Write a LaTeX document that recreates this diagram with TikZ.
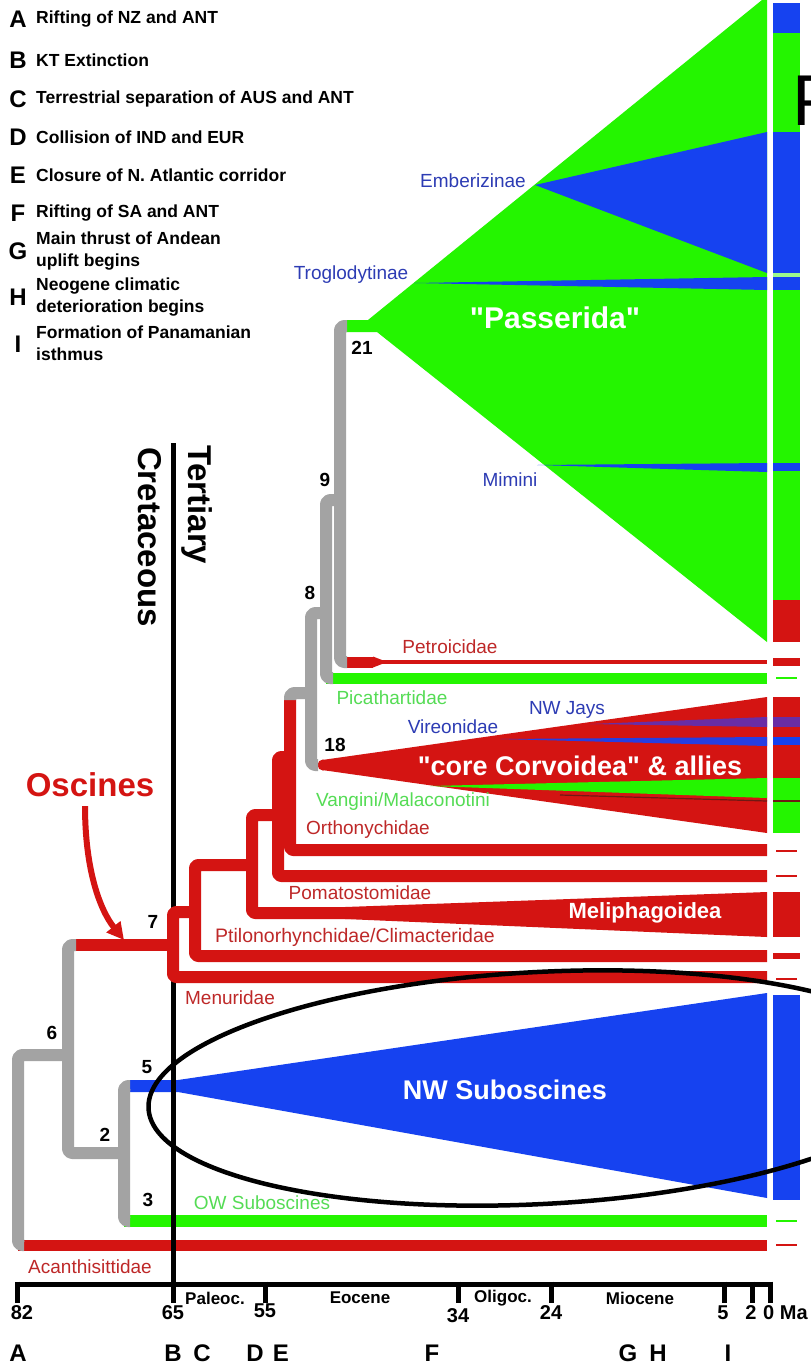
\documentclass[tikz,border=0pt]{standalone}
\usepackage{fontspec}
\setmainfont{Liberation Sans}[Ligatures=TeXOff]
\usetikzlibrary{arrows.meta}
\definecolor{grn}{RGB}{36,245,0}
\definecolor{blu}{RGB}{22,66,240}
\definecolor{rd}{RGB}{212,20,18}
\definecolor{gry}{RGB}{163,163,163}
\definecolor{tred}{RGB}{190,40,40}
\definecolor{tblu}{RGB}{45,60,180}
\definecolor{tgrn}{RGB}{85,220,85}
\definecolor{pur}{RGB}{105,45,165}
\definecolor{dkr}{RGB}{110,25,20}
\begin{document}
\begin{tikzpicture}[x=1pt,y=-1pt,
  gbr/.style={draw=gry,line width=12pt,line join=round,rounded corners=4pt},
  rbr/.style={draw=rd,line width=12pt,line join=round,rounded corners=3pt},
  tx/.style={font=\fontsize{19}{19}\selectfont,inner sep=0pt},
  nlab/.style={font=\bfseries\fontsize{19}{19}\selectfont,inner sep=0pt},
  big/.style={font=\bfseries\fontsize{27}{27}\selectfont,text=white,inner sep=0pt},
  leg/.style={font=\bfseries\fontsize{24}{24}\selectfont,inner sep=0pt},
  legtx/.style={font=\bfseries\fontsize{17.5}{21.5}\selectfont,inner sep=0pt,anchor=west,align=left},
  axn/.style={font=\bfseries\fontsize{20}{20}\selectfont,inner sep=0pt},
  epo/.style={font=\bfseries\fontsize{17}{17}\selectfont,inner sep=0pt},
  colb/.style={line width=2pt},
]
\useasboundingbox (0,0) rectangle (811,1366);
\fill[white] (0,0) rectangle (811,1366);

% ---------- tree node coordinates ----------
\coordinate (n21t) at (340,326); \coordinate (n21b) at (340,662);
\coordinate (n9t) at (326,500);  \coordinate (n9b) at (326,678);
\coordinate (n8t) at (311,613);  \coordinate (n8b) at (311,765);
\coordinate (nAt) at (290,693);  \coordinate (nAb) at (290,850);
\coordinate (nBt) at (278,757);  \coordinate (nBb) at (278,876);
\coordinate (nCt) at (252,815);  \coordinate (nCb) at (252,913);
\coordinate (nDt) at (195,865);  \coordinate (nDb) at (195,956);
\coordinate (n7t) at (173,912);  \coordinate (n7b) at (173,977);
\coordinate (n6t) at (68,945);   \coordinate (n6b) at (68,1153);
\coordinate (n2t) at (124,1086); \coordinate (n2b) at (124,1221);
\coordinate (nRt) at (18,1055);  \coordinate (nRb) at (18,1245);

% ---------- clades (wedges) ----------
\fill[grn] (345,320) -- (368,320) -- (762,0) -- (767,0) -- (767,642) -- (377,332) -- (345,332) -- cycle;
\fill[blu] (535,185) -- (767,132) -- (767,273) -- cycle;
\fill[blu] (414,283) -- (767,277) -- (767,290) -- cycle;
\fill[blu] (537,465) -- (767,463) -- (767,472) -- cycle;

\fill[rd] (322,760) -- (767,697) -- (767,833) -- (322,770) -- cycle;
\fill[pur] (590,724) -- (767,717) -- (767,727) -- cycle;
\fill[blu!80!pur] (500,739) -- (767,737) -- (767,746) -- cycle;
\fill[grn] (430,786) -- (767,778) -- (767,798) -- cycle;
\draw[dkr,line width=1.2pt] (560,795) -- (767,801);
\fill[rd] (323,765) circle (5.5);

\fill[rd] (345,907) -- (767,892) -- (767,937) -- (345,919) -- cycle;

\fill[blu] (130,1080) -- (178,1080) -- (767,993) -- (767,1198) -- (178,1092) -- (130,1092) -- cycle;

% ---------- single-lineage bars ----------
\fill[rd] (345,656.5) rectangle (373,667.5);
\fill[rd] (373,656.5) -- (382,660) -- (382,664) -- (373,667.5) -- cycle;
\draw[rd,line width=4.5pt] (380,662) -- (767,662);
\draw[grn,line width=11pt] (n9b) -- (767,678);
\draw[grn,line width=12pt] (n2b) -- (767,1221);
\draw[rd,line width=11pt] (nRb) -- (767,1245);

% ---------- Cretaceous/Tertiary boundary ----------
\draw[line width=5pt] (173,443) -- (173,1303);

% ---------- red (oscine) branches ----------
\draw[rd,line width=12pt] (75,945) -- (n7t |- n6t);
\draw[rbr] (n7t -| nDt) -- (n7t) -- (n7b) -- (767,977);
\draw[rbr] (nDt -| nCt) -- (nDt) -- (nDb) -- (767,956);
\draw[rbr] (nCt -| nBt) -- (nCt) -- (nCb) -- (350,913);
\draw[rbr] (nBt -| nAt) -- (nBt) -- (nBb) -- (767,876);
\draw[rbr] ([yshift=-6pt]nAt) -- (nAb) -- (767,850);

% ---------- grey branches ----------
\draw[gbr] (nAt -| n8t) -- (nAt) -- ([yshift=-7pt]nAt);
\draw[gbr] (n8t -| n9t) -- (n8t) -- (n8b) -- (318,765);
\draw[gbr] (n9t -| n21t) -- (n9t) -- (n9b) -- (333,678);
\draw[gbr] (347,326) -- (n21t) -- (n21b) -- (347,662);
\draw[gbr] (76,945) -- (n6t) -- (n6b) -- (n6b -| n2t);
\draw[gbr] (130,1086) -- (n2t) -- (n2b) -- (130,1221);
\draw[gbr] (nRt -| n6t) -- (nRt) -- (nRb) -- (24,1245);

% ---------- right summary column ----------
\fill[blu] (773,3) rectangle (800,33);
\fill[grn] (773,33) rectangle (800,132);
\fill[blu] (773,132) rectangle (800,273);
\fill[grn!45!white] (773,273) rectangle (800,277);
\fill[blu] (773,277) rectangle (800,290);
\fill[grn] (773,290) rectangle (800,600);
\fill[blu] (773,463) rectangle (800,471);
\fill[rd] (773,600) rectangle (800,642);
\fill[rd] (773,658) rectangle (800,666);
\draw[grn,colb] (776,678) -- (797,678);
\fill[rd] (773,697) rectangle (800,778);
\fill[pur] (773,717) rectangle (800,727);
\fill[blu] (773,737) rectangle (800,745);
\fill[grn] (773,778) rectangle (800,833);
\draw[dkr,line width=1.5pt] (773,801) -- (800,801);
\draw[rd,colb] (776,851) -- (797,851);
\draw[rd,colb] (776,876) -- (797,876);
\fill[rd] (773,892) rectangle (800,937);
\fill[rd] (773,953) rectangle (800,959);
\draw[rd,colb] (776,979) -- (797,979);
\fill[blu] (773,995) rectangle (800,1200);
\draw[grn,colb] (776,1221) -- (797,1221);
\draw[rd,colb] (776,1245) -- (797,1245);

% ---------- clade labels ----------
\node[tx,text=tblu] (lEmb) at (473,181) {Emberizinae};
\node[tx,text=tblu] (lTro) at (351,275) {Troglodytinae};
\node[big,font=\bfseries\fontsize{30}{30}\selectfont] (lPas) at (555,318) {"Passerida"};
\node[tx,text=tblu] (lMim) at (510,480) {Mimini};
\node[tx,text=tred] (lPet) at (450,647) {Petroicidae};
\node[tx,text=tgrn] (lPic) at (392,698) {Picathartidae};
\node[tx,text=tblu] (lJay) at (567,710) {NW Jays};
\node[tx,text=tblu] (lVir) at (453,727) {Vireonidae};
\node[big] (lCor) at (580,766) {"core Corvoidea" \& allies};
\node[tx,text=tgrn] (lVan) at (403,802) {Vangini/Malaconotini};
\node[tx,text=tred] (lOrt) at (368,830) {Orthonychidae};
\node[tx,text=tred] (lPom) at (360,893) {Pomatostomidae};
\node[big,font=\bfseries\fontsize{22}{22}\selectfont] (lMel) at (645,913) {Meliphagoidea};
\node[tx,text=tred,font=\fontsize{19.5}{19.5}\selectfont] (lPti) at (355,937) {Ptilonorhynchidae/Climacteridae};
\node[tx,text=tred] (lMen) at (230,998) {Menuridae};
\node[big] (lNWS) at (505,1090) {NW Suboscines};
\node[tx,text=tgrn] (lOWS) at (262,1203) {OW Suboscines};
\node[tx,text=tred] (lAca) at (90,1267) {Acanthisittidae};

% node numbers
\node[nlab] (k21) at (362,348) {21};
\node[nlab] (k9) at (325,480) {9};
\node[nlab] (k8) at (310,593) {8};
\node[nlab] (k18) at (335,745) {18};
\node[nlab] (k7) at (153,922) {7};
\node[nlab] (k6) at (52,1033) {6};
\node[nlab] (k5) at (147,1067) {5};
\node[nlab] (k2) at (105,1135) {2};
\node[nlab] (k3) at (148,1200) {3};

% Oscines label and arrow
\node[font=\bfseries\fontsize{33}{33}\selectfont,text=rd,inner sep=0pt] (lOsc) at (90,785) {Oscines};
\coordinate (oscTip) at (124,940);
\draw[rd,line width=6pt,-{Triangle[length=17pt,width=17pt]}] (85,806) .. controls (85,870) and (100,910) .. (oscTip);

% era labels
\node[font=\bfseries\fontsize{33}{33}\selectfont,rotate=-90,inner sep=0pt] (lCre) at (150,537) {Cretaceous};
\node[font=\bfseries\fontsize{33}{33}\selectfont,rotate=-90,inner sep=0pt] (lTer) at (197,505) {Tertiary};

% ---------- legend ----------
\node[leg] (gA) at (18,19) {A};  \node[legtx] (tA) at (36,19) {Rifting of NZ and ANT};
\node[leg] (gB) at (18,60) {B};  \node[legtx] (tB) at (36,60) {KT Extinction};
\node[leg] (gC) at (18,99) {C};  \node[legtx] (tC) at (36,99) {Terrestrial separation of AUS and ANT};
\node[leg] (gD) at (18,137) {D}; \node[legtx] (tD) at (36,137) {Collision of IND and EUR};
\node[leg] (gE) at (18,175) {E}; \node[legtx] (tE) at (36,175) {Closure of N. Atlantic corridor};
\node[leg] (gF) at (18,213) {F}; \node[legtx] (tF) at (36,213) {Rifting of SA and ANT};
\node[leg] (gG) at (18,251) {G}; \node[legtx] (tG) at (36,251) {Main thrust of Andean\\uplift begins};
\node[leg] (gH) at (18,297) {H}; \node[legtx] (tH) at (36,297) {Neogene climatic\\deterioration begins};
\node[leg] (gI) at (18,344) {I}; \node[legtx] (tI) at (36,343) {Formation of Panamanian\\isthmus};

% ---------- time axis ----------
\coordinate (ax0) at (17,1284); \coordinate (ax1) at (770,1284);
\draw[line width=5pt] (ax0) -- (ax1);
\foreach \xx in {17,265,458,551,724,752,770} \draw[line width=5pt] (\xx,1281.5) -- (\xx,1303);
\node[epo] (eP) at (215,1298) {Paleoc.};
\node[epo] (eE) at (360,1298) {Eocene};
\node[epo] (eO) at (503,1298) {Oligoc.};
\node[epo] (eM) at (640,1298) {Miocene};
\node[axn] (m82) at (22,1313) {82};
\node[axn] (m65) at (173,1313) {65};
\node[axn] (m55) at (265,1311) {55};
\node[axn] (m34) at (458,1316) {34};
\node[axn] (m24) at (551,1313) {24};
\node[axn] (m5) at (723,1313) {5};
\node[axn] (m2) at (751,1313) {2};
\node[axn,anchor=west] (m0) at (763,1313) {0 Ma};
\foreach \l/\xx in {A/18,B/173,C/202,D/255,E/281,F/432,G/628,H/658,I/728}
  \node[leg] (b\l) at (\xx,1353) {\l};

% ---------- ellipse and stray letter ----------
\node[font=\fontsize{72}{72}\selectfont,anchor=west,inner sep=0pt] (bigP) at (792,101) {P};
\coordinate (ellc) at (540,1088);
\draw[line width=4.5pt,rotate around={3:(ellc)}] (ellc) ellipse [x radius=392, y radius=116];
\end{tikzpicture}
\end{document}
